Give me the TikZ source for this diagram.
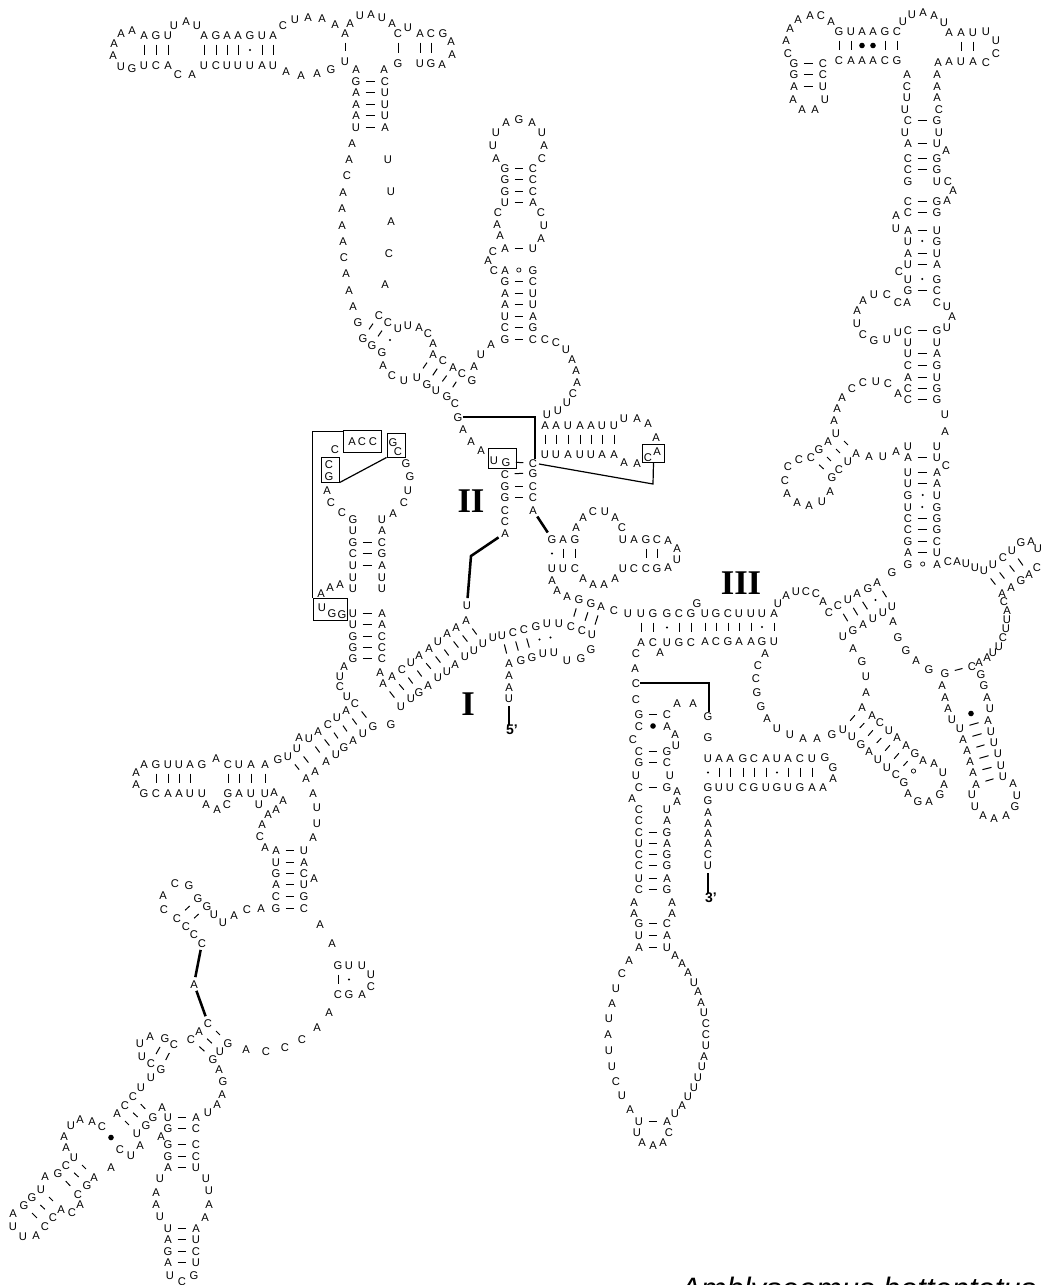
\documentclass[tikz,border=0pt]{standalone}
\usepackage{fontspec}
\setmainfont{Liberation Sans}
\newfontfamily\labelfont{Liberation Serif}
\tikzset{
  nt/.style={inner sep=0pt,minimum width=6pt,text height=6pt,text depth=0pt,font=\fontsize{8.4}{8.4}\selectfont},
  wc/.style={draw,line width=.75pt,shorten <=4pt,shorten >=4pt},
  wcm/.style={inner sep=0pt},
  gu/.style={},
  gum/.style={circle,fill,inner sep=0pt,minimum size=1.7pt},
  nc/.style={},
  ncm/.style={circle,fill,inner sep=0pt,minimum size=4.2pt},
  oo/.style={},
  oom/.style={circle,draw,line width=.5pt,inner sep=0pt,minimum size=3.2pt},
  tie/.style={draw,line width=1.9pt,shorten <=2pt,shorten >=2pt},
  bx/.style={draw,line width=.75pt,inner sep=0pt},
  wire/.style={draw,line width=.9pt},
  domainlab/.style={inner sep=0pt,font=\fontsize{26}{26}\selectfont\labelfont\bfseries},
  endlab/.style={inner sep=0pt,font=\fontsize{10.5}{10.5}\selectfont\bfseries}
}
% single bases: x/y/letter
\newcommand{\nts}[2]{\foreach \x/\y/\nta [count=\i] in {#2} {\node[nt] (#1\i) at (\x,\y) {\nta};}}
% paired bases: xa/ya/letter/xb/yb/letter/kind
\newcommand{\bps}[2]{\foreach \xa/\ya/\nta/\xb/\yb/\ntb/\kd [count=\i] in {#2} {
  \node[nt] (#1\i a) at (\xa,\ya) {\nta};
  \node[nt] (#1\i b) at (\xb,\yb) {\ntb};
  \path[\kd] (#1\i a) -- node[\kd m] {} (#1\i b);}}
\begin{document}
\begin{tikzpicture}[x=.75pt,y=-.75pt]
  \useasboundingbox (0,0) rectangle (1040,1285);
  % upper left arm
  \bps{ta}{144/35/A/144/65/U/wc, 156/35/G/156/65/C/wc, 168/35/U/168/65/A/wc,
    204/35/A/204/65/U/wc, 216/35/G/216/65/C/wc, 227/35/A/227/65/U/wc, 238/35/A/238/65/U/wc,
    250/35/G/250/65/U/gu, 262/35/U/262/65/A/wc, 273/35/A/273/65/U/wc,
    345/33/A/345/61/U/wc, 398/33/C/398/63/G/wc, 420/33/A/420/63/U/wc, 431/33/C/431/63/G/wc,
    356/81/G/385/81/C/wc, 356/92/A/385/92/U/wc, 356/104/A/385/104/U/wc, 356/115/A/385/115/U/wc, 356/127/U/385/127/A/wc}
  \nts{tb}{113/55/A, 114/43/A, 121/33/A, 132/30/A, 121/66/U, 132/68/G, 174/25/U, 186/21/A, 197/25/U,
    178/74/C, 192/74/A, 283/25/C, 295/19/U, 308/17/A, 322/18/A, 335/24/A, 350/23/A, 360/15/U, 371/14/A,
    382/17/U, 392/23/A, 286/71/A, 301/75/A, 317/73/A, 331/69/G, 408/27/U, 443/33/G, 451/41/A, 452/54/A,
    442/64/A, 356/69/A, 384/69/A,
    352/143/A, 349/159/A, 347/175/C, 343/192/A, 342/208/A, 342/225/A, 343/241/A, 344/257/C, 346/273/A,
    349/290/A, 353/306/A, 388/159/U, 391/191/U, 391/221/A, 389/253/C, 385/284/A, 358/322/G}
  \bps{tc}{363/338/G/379/315/C/wc, 372/345/G/388/322/C/wc, 382/352/G/398/328/U/gu,
    433/354/A/417/377/U/wc, 443/360/C/427/384/G/wc, 453/367/A/436/390/U/wc, 462/373/C/447/396/G/wc}
  \nts{td}{408/325/U, 419/327/A, 428/333/C, 433/343/A, 383/365/A, 392/375/C, 404/380/U, 455/403/C,
    463/429/A, 471/441/A, 481/450/A, 472/380/G, 474/366/A, 481/354/U, 491/344/A}
  % centre hairpin
  \bps{ha}{505/339/G/533/339/C/wc, 505/327/C/533/327/G/wc, 505/316/U/533/316/A/wc, 505/304/A/533/304/U/wc,
    505/293/A/533/293/U/wc, 505/281/G/533/281/C/wc, 505/270/A/533/270/G/oo, 505/248/A/533/248/U/wc,
    505/202/U/533/202/A/wc, 505/191/G/533/191/C/wc, 505/179/G/533/179/C/wc, 505/168/G/533/168/C/wc}
  \nts{hb}{494/270/C, 488/260/A, 493/251/C, 500/235/A, 497/224/A, 498/212/C, 541/238/A, 544/225/U, 541/212/C,
    496/158/A, 493/145/U, 496/132/U, 506/122/A, 519/119/G, 532/122/A, 542/132/U, 544/145/A, 542/158/C,
    545/339/C, 556/342/C, 566/349/U, 572/359/A, 576/370/A, 577/382/A, 573/393/C, 567/402/U, 558/410/U, 547/414/U}
  % domain II
  \bps{ia}{545/425/A/545/454/U/wc, 556/425/A/556/454/U/wc, 568/425/U/568/454/A/wc, 580/425/A/580/454/U/wc,
    591/425/A/591/454/U/wc, 602/425/U/602/454/A/wc, 614/425/U/614/454/A/wc}
  \nts{ib}{624/418/U, 637/418/A, 648/423/A, 656/437/A, 657/451/A, 648/457/C, 637/463/A, 624/462/A, 494/460/U}
  \node[nt] (gstart) at (458,417) {G};
  \bps{ic}{506/462/G/533/463/C/wc, 505/474/C/533/473/G/wc, 505/486/G/533/486/C/wc, 505/497/G/533/497/C/wc}
  \nts{id}{505/510/C, 505/521/C}
  \node[nt] (aout) at (505,533) {A};
  \node[nt] (ain) at (533,510) {A};
  \node[nt] (uin) at (467,605) {U};
  \coordinate (kink) at (471,556);
  \draw[tie] (aout) -- (kink) -- (uin);
  \node[bx,minimum width=17pt,minimum height=13pt] (bca) at (653.5,453.5) {};
  \node[bx,minimum width=21pt,minimum height=15pt] (bug) at (502,458) {};
  \coordinate (wirec) at (653,484);
  \coordinate (wireg) at (535,417);
  \draw[wire] (ic1b) ++(6,1) -- (wirec) -- (bca.south);
  \draw[wire] (gstart) -- (wireg) -- ([xshift=1.5pt]ic1b.north);
  % stem loop beside domain II
  \bps{ja}{552/539/G/552/568/U/gu, 563/539/A/563/568/U/wc, 575/539/G/575/568/C/wc,
    646/539/G/646/568/C/wc, 657/539/C/657/568/G/wc}
  \draw[tie] (ain) -- (ja1a);
  \nts{jb}{576/527/A, 583/517/A, 593/511/C, 605/511/U, 615/517/A, 622/527/C, 623/539/U, 634/539/A, 668/540/A,
    677/548/A, 677/559/U, 668/567/A, 623/568/U, 634/568/C, 583/578/A, 593/584/A, 604/584/A, 615/578/A,
    552/580/A, 557/590/A, 567/596/A, 614/610/C, 628/613/U}
  % domain I
  \bps{ka}{579/599/G/571/626/C/wc, 591/603/G/582/630/C/wc, 601/606/A/592/634/U/wc,
    466/620/A/483/643/U/wc, 456/627/A/474/650/U/wc, 447/633/A/465/656/U/wc, 438/641/U/455/664/A/wc,
    429/648/A/447/671/U/wc, 419/655/A/438/677/U/wc, 411/662/U/428/685/A/wc, 402/669/C/419/692/G/wc,
    392/676/A/411/698/U/wc, 383/683/A/401/706/U/wc,
    502/635/U/509/663/A/wc, 513/632/C/521/660/G/wc, 524/629/C/532/657/G/wc, 536/626/G/543/653/U/gu,
    547/623/U/554/652/U/gu}
  \nts{kb}{559/623/U, 493/637/U, 380/672/A, 567/660/U, 581/658/G, 591/649/G, 509/675/A, 509/687/A, 660/652/A}
  \node[nt] (u5) at (509,698) {U};
  \node[endlab] (five) at (512,730) {5’};
  \draw[wire,shorten <=3pt] (u5) -- (u5 |- five.north);
  % domain III
  \bps{la}{641/613/U/641/642/A/wc, 653/613/G/653/642/C/wc, 667/613/G/667/642/U/gu, 679/613/C/679/642/G/wc,
    691/613/G/691/642/C/wc, 705/613/U/705/641/A/wc, 716/613/G/716/641/C/wc, 728/613/C/728/641/G/wc,
    739/613/U/739/641/A/wc, 751/613/U/751/641/A/wc, 762/613/U/762/641/G/gu, 774/613/A/774/641/U/wc}
  \nts{lb}{697/603/G, 778/603/U, 786/595/A, 796/591/U, 806/591/C, 816/593/C, 823/601/A, 829/612/C, 892/572/G,
    843/636/U, 893/621/A, 853/648/A, 862/661/G, 866/676/U, 866/692/A}
  \bps{lc}{838/605/C/853/630/G/wc, 848/599/U/863/624/A/wc, 857/593/A/873/618/U/wc, 868/588/G/883/612/U/gu,
    877/582/A/892/606/U/wc,
    862/707/A/843/729/U/wc, 872/715/A/852/736/U/wc, 880/722/C/861/744/G/wc, 889/730/U/869/751/A/wc,
    897/737/A/878/759/U/wc, 906/745/A/887/767/U/wc, 915/753/G/896/774/C/wc, 923/760/A/904/782/G/oo}
  \nts{ld}{934/763/A, 943/772/U, 944/784/A, 940/794/G, 929/801/A, 918/801/G, 908/793/A,
    832/734/G, 817/738/A, 803/738/A, 790/734/U, 777/728/U, 767/718/A, 761/706/G, 757/692/G, 756/678/C,
    758/665/C, 765/653/A}
  % right hand hairpins
  \bps{ma}{984/570/U/1002/593/A/wc, 993/564/U/1011/587/A/wc, 1003/557/C/1021/580/G/wc, 1012/550/U/1029/574/A/wc,
    945/673/G/972/666/C/wc,
    960/728/U/988/720/A/wc, 963/739/A/991/731/U/wc, 967/750/A/994/742/U/wc, 970/761/A/998/753/U/wc,
    973/772/A/1001/765/U/wc, 976/784/A/1003/776/U/wc, 952/719/U/990/708/U/nc}
  \nts{mb}{948/561/C, 957/561/A, 966/563/U, 975/567/U, 1021/542/G, 1031/541/A, 1038/548/U, 1037/567/C,
    1004/601/C, 1007/610/A, 1007/619/U, 1006/628/U, 1003/637/C, 999/646/U, 993/652/U, 987/657/A, 979/662/A,
    898/637/G, 906/650/G, 916/660/A, 929/669/G, 942/685/A, 945/697/A, 948/708/A, 972/794/U, 975/806/U,
    983/815/A, 994/818/A, 1006/815/A, 1015/806/G, 1017/795/U, 1013/783/A, 987/697/A, 984/685/G, 981/674/G}
  % upper right arm
  \bps{na}{794/63/G/823/63/C/wc, 794/74/G/823/74/C/wc, 794/86/A/823/86/U/wc,
    839/31/G/839/60/C/wc, 851/31/U/851/60/A/wc, 862/31/A/862/60/A/nc, 873/31/A/873/60/A/nc,
    885/31/G/885/60/C/wc, 897/31/C/897/60/G/wc, 961/32/A/961/61/U/wc, 973/32/U/973/61/A/wc,
    908/120/C/937/120/G/wc, 908/143/A/937/143/U/wc, 908/158/C/937/158/G/wc, 908/169/C/937/169/G/wc,
    908/201/C/937/201/G/wc, 908/212/C/937/212/G/wc, 908/230/A/937/230/U/wc, 908/241/U/937/241/G/gu,
    908/253/A/937/253/U/wc, 908/264/U/937/264/A/wc, 908/279/U/937/279/G/gu, 908/290/G/937/290/C/wc}
  \nts{nb}{788/53/C, 786/40/A, 790/28/A, 798/19/A, 810/15/A, 821/15/C, 831/21/A, 793/99/A, 802/109/A, 815/109/A,
    825/99/U, 903/21/U, 912/14/U, 923/12/A, 934/15/A, 944/22/U, 949/32/A, 986/31/U, 996/40/U, 996/53/C,
    986/62/C, 949/61/A, 938/62/A, 907/74/A, 937/74/A, 907/86/C, 937/86/A, 907/97/U, 937/97/A, 905/109/U,
    939/109/C, 905/132/U, 939/132/U, 946/150/A, 908/181/G, 937/181/U, 948/181/C, 953/190/A, 947/200/A,
    896/215/A, 896/228/U, 899/271/C}
  \bps{oa}{908/330/C/937/330/G/wc, 908/353/U/937/353/A/wc, 908/365/C/937/365/G/wc, 908/377/A/937/377/U/wc,
    908/388/C/937/388/G/wc, 908/399/C/937/399/G/wc,
    836/433/U/856/453/A/wc, 828/441/A/848/461/U/wc, 819/449/G/839/469/C/wc, 811/457/C/832/477/G/wc,
    908/457/A/937/457/U/wc, 908/472/U/937/472/A/wc, 908/483/U/937/483/A/wc, 908/495/G/937/495/U/gu,
    908/507/U/937/507/G/gu, 908/518/C/937/518/G/wc, 908/529/C/937/529/G/wc, 908/541/G/937/541/C/wc,
    908/552/A/937/552/U/wc, 908/564/G/937/564/A/oo}
  \nts{ob}{907/302/A, 898/302/C, 937/302/C, 947/306/U, 952/316/A, 947/327/U, 887/294/C, 874/294/U, 863/300/A,
    857/310/A, 857/323/U, 863/334/C, 874/340/G, 887/339/U, 898/332/U, 908/342/U, 937/342/U,
    898/393/A, 888/383/C, 876/381/U, 863/382/C, 852/388/C, 842/397/A, 837/408/A, 834/420/A,
    799/459/C, 788/466/C, 785/480/C, 787/493/A, 797/502/A, 809/505/A, 822/501/U, 830/491/A,
    869/456/A, 883/456/U, 896/451/A, 908/446/U, 937/446/U, 945/414/U, 945/431/A, 946/465/C}
  % long stem below domain III
  \nts{pb}{636/653/C, 635/668/A, 636/699/C, 677/703/A, 693/703/A, 675/734/A, 676/745/U, 633/739/C,
    636/775/U, 670/775/U, 677/791/A, 677/801/A, 632/798/A, 639/809/C, 667/809/U, 639/820/C, 667/820/A,
    634/902/A, 672/902/A, 634/913/A, 672/913/A,
    629/960/A, 622/973/C, 616/988/U, 612/1003/A, 609/1018/U, 608/1034/A, 609/1050/U, 612/1066/U, 616/1081/C,
    622/1095/U, 630/1109/A, 637/1132/U, 669/1132/C, 642/1142/A, 653/1145/A, 663/1142/A,
    675/955/A, 682/963/A, 688/972/A, 694/982/U, 698/991/A, 701/1002/A, 704/1012/U, 706/1023/C, 706/1034/C,
    706/1045/U, 704/1056/A, 702/1066/U, 698/1077/U, 694/1087/U, 688/1096/U, 682/1105/A, 675/1113/U}
  \node[nt] (cwire) at (636,683) {C};
  \node[nt] (gwire) at (708,716) {G};
  \draw[wire] (cwire) -| ([xshift=.75pt]gwire.north);
  \bps{pa}{639/714/G/667/714/C/wc, 639/726/C/667/726/A/nc, 639/751/C/667/751/G/wc, 639/762/G/667/762/C/wc,
    639/787/C/667/787/G/wc, 639/832/C/667/832/G/wc, 639/843/U/667/843/A/wc, 639/854/C/667/854/G/wc,
    639/865/C/667/865/G/wc, 639/878/U/667/878/A/wc, 639/889/C/667/889/G/wc,
    639/923/G/667/923/C/wc, 639/935/U/667/935/A/wc, 639/947/A/667/947/U/wc, 639/1121/U/667/1121/A/wc}
  % 3' end stem
  \bps{qa}{708/758/U/708/787/G/gu, 719/758/A/719/787/U/wc, 730/758/A/730/787/U/wc, 743/758/G/743/787/C/wc,
    754/758/C/754/787/G/wc, 766/758/A/766/787/U/wc, 777/758/U/777/787/G/gu, 788/758/A/788/787/U/wc,
    800/758/C/800/787/G/wc, 812/758/U/812/787/A/wc}
  \nts{qb}{708/737/G, 825/757/G, 823/787/A, 833/767/G, 833/778/A, 708/800/G, 708/812/A, 708/823/A, 708/833/A,
    708/843/A, 708/854/C}
  \node[nt] (u3) at (708,865) {U};
  \node[endlab] (three) at (711,898) {3’};
  \draw[wire,shorten <=3pt] (u3) -- (u3 |- three.north);
  % left helix and its branch
  \nts{ra}{344/666/A, 340/676/U, 340/686/C, 347/696/U, 299/737/A, 391/724/G, 278/759/G}
  \bps{rb}{355/703/C/373/726/G/wc, 346/710/A/363/733/U/wc, 337/717/U/353/740/A/wc, 328/724/C/344/747/G/wc,
    318/731/A/336/754/U/wc, 309/738/U/326/761/A/wc, 297/748/U/315/771/A/wc, 288/756/U/306/778/A/wc,
    156/764/G/156/793/C/wc, 168/764/U/168/793/A/wc, 179/764/U/179/793/A/wc, 190/764/A/190/793/U/wc,
    228/764/C/228/793/G/wc, 239/764/U/239/793/A/wc, 251/764/A/251/793/U/wc, 265/764/A/265/793/U/wc,
    276/850/A/304/850/U/wc, 276/862/U/304/862/A/wc, 276/873/G/304/873/C/wc, 276/884/A/304/884/U/wc,
    276/896/C/304/896/G/wc, 276/908/G/304/908/C/wc,
    177/918/C/198/898/G/wc, 186/926/C/207/906/G/wc, 338/965/G/338/994/C/wc, 349/965/U/349/994/G/gu}
  \nts{rc}{144/764/A, 202/764/G, 216/758/A, 136/772/A, 136/784/A, 144/793/G, 202/793/U, 206/804/A, 217/809/A,
    227/804/C, 274/792/A, 283/800/A, 259/804/U, 276/809/A, 268/814/A, 262/824/A, 260/836/C, 265/847/A,
    313/793/A, 317/807/U, 317/823/U, 313/837/A, 314/878/A, 261/908/A, 247/909/C, 234/915/A, 223/922/U,
    214/914/U, 189/885/G, 175/883/C, 163/895/A, 164/909/C, 194/934/C,
    320/924/A, 332/943/A, 362/965/U, 371/974/U, 371/986/C, 362/994/A,
    246/1049/A, 266/1051/C, 285/1047/C, 302/1039/C, 317/1027/A, 329/1012/A}
  % lower left branch
  \node[nt] (ctop) at (202,943) {C};
  \node[nt] (amid) at (194,984) {A};
  \bps{sa}{208/1023/C/228/1043/G/wc, 199/1031/A/220/1051/U/wc, 191/1039/C/213/1059/G/wc,
    168/1117/U/196/1117/A/wc, 168/1128/G/196/1128/C/wc, 168/1144/G/196/1144/C/wc, 168/1156/G/196/1156/C/wc,
    168/1167/A/196/1167/U/wc, 168/1228/U/196/1228/A/wc, 168/1239/A/196/1239/U/wc, 168/1251/G/196/1251/C/wc,
    168/1262/A/196/1262/U/wc,
    151/1063/C/165/1038/G/wc, 161/1069/G/174/1044/C/wc,
    133/1096/C/153/1117/G/wc, 125/1105/C/146/1125/G/wc, 117/1113/A/137/1133/U/wc,
    74/1157/U/94/1177/A/wc, 66/1165/C/87/1185/G/wc, 58/1173/G/78/1194/C/wc,
    41/1189/U/61/1209/A/wc, 32/1197/G/53/1217/C/wc, 24/1205/G/45/1226/C/wc,
    102/1126/C/120/1149/C/nc}
  \draw[tie] (ctop) -- (amid);
  \draw[tie] (amid) -- (sa1a);
  \nts{sb}{219/1069/A, 223/1081/G, 222/1094/A, 217/1104/A, 208/1112/U, 161/1136/A, 162/1107/A, 131/1155/U,
    140/1145/A, 141/1087/U, 151/1077/U, 142/1056/U, 140/1043/U, 150/1036/A, 92/1121/A, 80/1119/A, 71/1125/U,
    64/1136/A, 66/1147/A, 45/1176/A, 13/1213/A, 13/1226/U, 23/1236/U, 36/1235/A, 72/1212/C, 80/1204/A,
    111/1167/A, 160/1178/U, 156/1192/A, 156/1204/A, 160/1216/U, 206/1178/U, 209/1190/U, 209/1204/A,
    205/1217/A, 170/1275/U, 182/1281/C, 194/1275/G}
  % boxed loop, left of domain II
  \nts{ua}{352/441/A, 362/441/C, 373/441/C, 393/442/G, 398/451/C, 329/464/C, 329/476/G, 335/449/C, 327/490/A,
    331/502/C, 342/512/C, 353/519/G, 353/530/U, 353/577/U, 382/577/U, 353/588/U, 382/588/U, 382/519/U,
    382/530/A, 393/513/A, 404/502/C, 408/490/U, 410/476/G, 406/463/G, 340/584/A, 330/587/A, 321/593/A,
    322/607/U, 332/613/G, 342/614/G}
  \bps{ub}{353/542/G/382/542/C/wc, 353/553/C/382/553/G/wc, 353/565/U/382/565/A/wc,
    353/613/U/382/613/A/wc, 353/624/U/382/624/A/wc, 353/636/G/382/636/C/wc, 353/647/G/382/647/C/wc,
    353/658/G/382/658/C/wc}
  \node[bx,minimum width=29pt,minimum height=16.5pt] (bacc) at (362.5,441) {};
  \node[bx,minimum width=13.5pt,minimum height=18pt] (bgc) at (396,445) {};
  \node[bx,minimum width=13pt,minimum height=18.75pt] (bcg) at (330.5,469.5) {};
  \node[bx,minimum width=26pt,minimum height=16.5pt] (bugg) at (330.5,609) {};
  \draw[wire] (bugg.north west) |- ([yshift=-1.5pt]bacc.north west);
  \draw[wire] (bcg.south east) -- (bgc.south west);
  % domain labels and species
  \node[domainlab] (dI) at (468,704) {I};
  \node[domainlab] (dII) at (471,501) {II};
  \node[domainlab] (dIII) at (741,583) {III};
  \node[inner sep=0pt,anchor=base west,font=\fontsize{23.2}{23.2}\selectfont\itshape] (species) at (680,1299) {Amblyseomus hottentotus};
\end{tikzpicture}
\end{document}
